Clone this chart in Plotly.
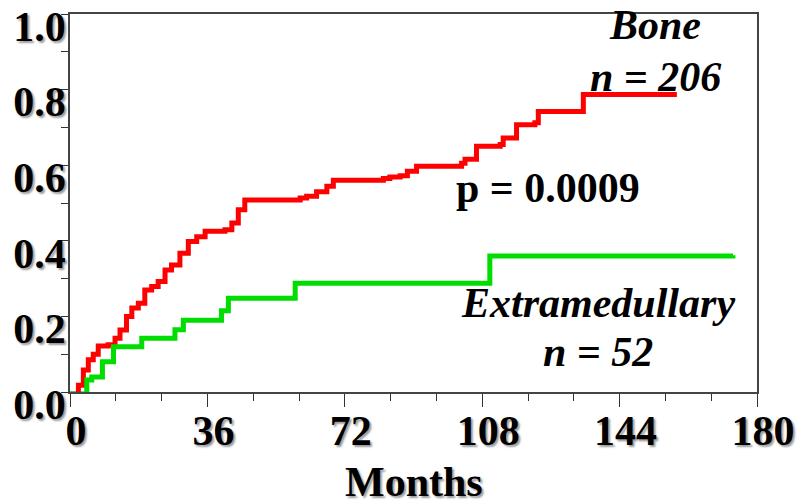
import plotly.graph_objects as go

# Bone (n = 206) cumulative incidence, months
bone_months = [0, 1.8, 2.2, 3.5, 4.8, 6.1, 7.4, 10.0, 11.8, 13.1, 14.8, 16.2, 17.9, 19.6, 21.4,
               23.1, 24.9, 26.6, 28.8, 31.0, 33.2, 35.4, 40.6, 42.4, 44.1, 45.8, 60.3, 62.0,
               64.6, 67.3, 69.0, 82.1, 83.8, 86.5, 88.4, 90.8, 102.6, 103.5, 106.5, 112.7,
               113.5, 117.0, 121.8, 122.7, 134.5, 159.0]
bone_values = [0.0, 0.0, 0.018, 0.058, 0.085, 0.10, 0.122, 0.125, 0.142, 0.164, 0.20, 0.222,
               0.235, 0.27, 0.279, 0.292, 0.323, 0.336, 0.367, 0.398, 0.411, 0.425, 0.429,
               0.447, 0.482, 0.508, 0.513, 0.518, 0.53, 0.544, 0.56, 0.565, 0.569, 0.572,
               0.584, 0.597, 0.605, 0.616, 0.65, 0.655, 0.672, 0.707, 0.712, 0.742, 0.787,
               0.787]

# Extramedullary (n = 52)
extra_months = [0, 4.4, 5.7, 8.5, 11.4, 18.8, 27.5, 29.7, 39.7, 41.5, 59.0, 110.0, 173.7]
extra_values = [0.0, 0.032, 0.04, 0.08, 0.12, 0.142, 0.165, 0.19, 0.215, 0.248, 0.288, 0.36,
                0.362]

x_ticks = [0, 36, 72, 108, 144, 180]
y_ticks = [0.0, 0.2, 0.4, 0.6, 0.8, 1.0]
y_tick_labels = ["0.0", "0.2", "0.4", "0.6", "0.8", "1.0"]

FONT = "Liberation Serif, Times New Roman, serif"
SHADOW = "2px 2px 2px #9a9a9a"
RED = "#ff0000"
GREEN = "#00dd00"

fig = go.Figure()
# thin initial segments (before first event)
fig.add_trace(go.Scatter(x=bone_months[:2], y=[bone_values[0]] * 2, mode="lines",
                         line=dict(color="#e8702a", width=1.5),
                         showlegend=False, hoverinfo="skip"))
fig.add_trace(go.Scatter(x=extra_months[:2], y=[extra_values[0]] * 2, mode="lines",
                         line=dict(color="#44cc44", width=1.5),
                         showlegend=False, hoverinfo="skip"))
# main step curves
fig.add_trace(go.Scatter(x=bone_months[1:], y=bone_values[1:], mode="lines",
                         line=dict(color=RED, width=5, shape="hv"),
                         showlegend=False, hoverinfo="skip"))
fig.add_trace(go.Scatter(x=[extra_months[1]] + extra_months[1:],
                         y=[extra_values[0]] + extra_values[1:], mode="lines",
                         line=dict(color=GREEN, width=5, shape="hv"),
                         showlegend=False, hoverinfo="skip"))

tickfont = dict(family=FONT, size=42, color="black", weight="bold", shadow=SHADOW)

fig.update_xaxes(range=[0, 180], tickvals=x_ticks, ticktext=[str(v) for v in x_ticks],
                 ticks="outside", ticklen=13, tickwidth=1.2, tickcolor="#333",
                 minor=dict(dtick=12, ticks="outside", ticklen=7, tickwidth=1.2, tickcolor="#333", tick0=0),
                 showline=True, linecolor="#444", linewidth=1.5, mirror=True,
                 showgrid=False, zeroline=False, tickfont=tickfont, ticklabelshift=6,
                 ticklabelstandoff=-12, automargin=False, ticklabeloverflow="allow")
fig.update_yaxes(range=[0, 1], tickvals=y_ticks, ticktext=y_tick_labels,
                 ticks="outside", ticklen=7, tickwidth=1.2, tickcolor="#333",
                 minor=dict(dtick=0.1, ticks="outside", ticklen=7, tickwidth=1.2, tickcolor="#333", tick0=0),
                 showline=True, linecolor="#444", linewidth=1.5, mirror=True,
                 showgrid=False, zeroline=False, tickfont=tickfont, ticklabelshift=12,
                 ticklabelstandoff=-13, automargin=False, ticklabeloverflow="allow")

ann_italic = dict(family=FONT, size=42, color="black", weight="bold", style="italic")
ann_plain = dict(family=FONT, size=42, color="black", weight="bold")
annotations = [
    ("Bone", 153.3, 0.97, ann_italic),
    ("n = 206", 153.3, 0.834, ann_italic),
    ("p = 0.0009", 125.2, 0.54, ann_plain),
    ("Extramedullary", 138.3, 0.236, ann_italic),
    ("n = 52", 138.3, 0.107, ann_italic),
]
for text, x, y, f in annotations:
    fig.add_annotation(x=x, y=y, xref="x", yref="y", text=text, showarrow=False,
                       font=f, xanchor="center", yanchor="middle")

# axis title
fig.add_annotation(x=0.5, y=-0.238, xref="paper", yref="paper", text="Months",
                   showarrow=False, xanchor="center", yanchor="middle",
                   font=dict(family=FONT, size=42, color="black", weight="bold", shadow=SHADOW))

fig.update_layout(width=803, height=504, margin=dict(l=70, r=46, t=14, b=112),
                  paper_bgcolor="white", plot_bgcolor="white")

fig.write_html("out.html")
